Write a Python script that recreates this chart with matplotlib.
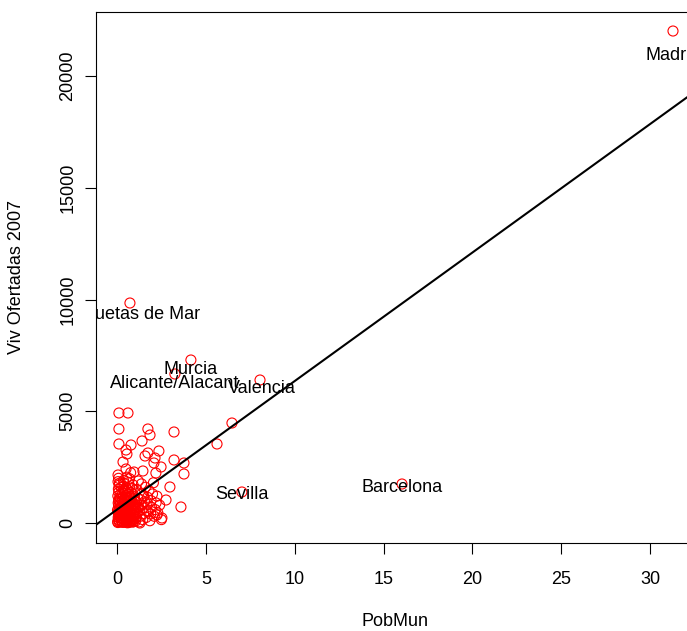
import numpy as np
import matplotlib
matplotlib.use("Agg")
from matplotlib import pyplot as plt

plt.rcParams['font.family'] = ['Liberation Sans', 'DejaVu Sans']

# dense cluster of small municipalities (PobMun, Viv Ofertadas 2007)
clus_x = [0.05, 0.08, 0.10, 0.06, 0.12, 0.09, 0.07, 0.11, 0.05, 0.10, 0.08, 0.12, 0.06, 0.09,
          0.15, 0.18, 0.20, 0.16, 0.22, 0.19, 0.17, 0.21, 0.25, 0.14,
          0.30, 0.33, 0.28, 0.35, 0.31, 0.38, 0.29, 0.36, 0.32, 0.40, 0.34, 0.37,
          0.42, 0.45, 0.48, 0.43, 0.50, 0.46, 0.44, 0.49, 0.47, 0.52, 0.41, 0.55,
          0.58, 0.60, 0.63, 0.57, 0.65, 0.61, 0.68, 0.59, 0.66, 0.62, 0.70, 0.64,
          0.72, 0.75, 0.78, 0.73, 0.80, 0.76, 0.82, 0.74, 0.79, 0.85, 0.71, 0.77,
          0.88, 0.92, 0.95, 0.90, 0.98, 0.93, 1.00, 0.96, 1.03, 0.91,
          1.05, 1.08, 1.12, 1.06, 1.15, 1.10, 1.18, 1.13, 1.20,
          1.25, 1.30, 1.28, 1.35, 1.32, 1.40, 1.38, 1.45, 1.50, 1.48, 1.55, 1.52, 1.60,
          1.65, 1.70, 1.75, 1.72, 1.80, 1.85, 1.90, 1.95, 1.92, 2.00, 2.05,
          2.10, 2.15, 2.20, 2.25, 2.30, 2.40, 2.50,
          0.04, 0.13, 0.24, 0.27, 0.39, 0.53, 0.56, 0.67, 0.83, 0.87, 0.94, 1.02,
          0.07, 0.18, 0.26, 0.36, 0.44, 0.54, 0.63, 0.69, 0.81, 0.97,
          0.03, 0.15, 0.23, 0.34, 0.46, 0.58, 0.71, 0.86, 1.09, 1.22,
          0.10, 0.21, 0.33, 0.47, 0.60, 0.75, 0.89, 1.04]
clus_y = [20, 150, 320, 480, 610, 760, 900, 1050, 1210, 1380, 1520, 1690, 1850, 2000,
          80, 250, 420, 560, 700, 880, 1130, 1300, 1600, 1780,
          30, 190, 350, 520, 680, 840, 990, 1160, 1330, 1470, 1640, 1900,
          100, 280, 440, 600, 770, 930, 1080, 1240, 1420, 1560, 1760, 2050,
          10, 170, 330, 490, 650, 810, 960, 1120, 1280, 1450, 1620, 1800,
          60, 230, 400, 560, 720, 880, 1040, 1200, 1360, 1530, 1980, 2250,
          40, 210, 370, 530, 690, 850, 1010, 1180, 1340, 1700,
          90, 260, 430, 600, 760, 920, 1090, 1500, 1880,
          50, 300, 550, 800, 1050, 1300, 1750, 150, 420, 680, 950, 1200, 1600,
          250, 550, 850, 1150, 1450, 100, 400, 700, 1000, 1300, 1800,
          300, 600, 900, 1200, 450, 800, 150,
          60, 40, 110, 70, 30, 90, 50, 20, 80, 130, 60, 180,
          250, 380, 190, 300, 220, 330, 150, 270, 200, 350,
          580, 640, 720, 460, 540, 610, 470, 390, 520, 700,
          980, 1070, 890, 1150, 1010, 1110, 720, 820]

# scattered larger towns
spr_x = [0.11, 0.62, 0.11, 1.74, 1.86, 3.21, 6.47, 5.63, 0.11, 0.79, 0.51, 0.56, 1.41,
         1.74, 1.58, 2.36, 2.14, 0.34, 2.08, 3.21, 3.77, 3.77, 2.48, 2.19, 0.51, 0.96,
         1.46, 0.06, 2.98, 2.76, 3.60, 1.74, 2.25, 2.53, 1.29,
         31.29, 16.04, 8.05, 7.03, 4.16, 3.26, 0.73]
spr_y = [4922, 4922, 4206, 4206, 3937, 4072, 4474, 3535, 3535, 3490, 3266, 3087, 3669,
         3132, 2998, 3221, 2908, 2729, 2685, 2819, 2685, 2192, 2506, 2237, 2416, 2282,
         2327, 2148, 1611, 1029, 716, 492, 358, 224, 0,
         22013, 1745, 6398, 1387, 7293, 6667, 9843]

# labels and where they sit
lab_names = ["Madrid", "Roquetas de Mar", "Murcia", "Alicante/Alacant", "Valencia", "Sevilla", "Barcelona"]
lab_x = [31.29, 0.79, 4.16, 3.24, 8.16, 7.03, 16.04]
lab_y = [20940, 9351, 6890, 6264, 5996, 1253, 1566]

# regression line
b0 = 600
b1 = 575

xs = np.array(clus_x + spr_x)
ys = np.array(clus_y + spr_y)

fig = plt.figure(figsize=(6.87, 6.31), dpi=100)
W, H = 687.0, 631.0
ax = fig.add_axes([96/W, (H-543)/H, (694.5-96)/W, (543-12)/H])

ax.scatter(xs, ys, s=52, facecolors='none', edgecolors='red', linewidths=0.8, zorder=2)
ax.axline((0, b0), slope=b1, color='black', lw=1.5, zorder=3)

for name, lx, ly in zip(lab_names, lab_x, lab_y):
    ax.text(lx, ly, name, ha='center', va='center', fontsize=13, clip_on=True, zorder=4)

ax.set_xlim(-1.18, 32.5)
ax.set_ylim(-895, 22864)
ax.set_xticks(np.arange(0, 31, 5))
ax.set_yticks(np.arange(0, 20001, 5000))
ax.set_yticklabels([str(v) for v in range(0, 20001, 5000)], rotation=90, va='center')
ax.tick_params(axis='both', length=8, width=0.8, labelsize=13, color='black')
ax.tick_params(axis='y', pad=6)
ax.tick_params(axis='x', pad=12)
for sp in ax.spines.values():
    sp.set_linewidth(0.8)

fig.text(395/W, 1 - 621/H, "PobMun", ha='center', va='center', fontsize=13)
fig.text(17/W, 1 - 277/H, "Viv Ofertadas 2007", ha='center', va='center', fontsize=13, rotation=90)

plt.savefig("out.png", dpi=100)
